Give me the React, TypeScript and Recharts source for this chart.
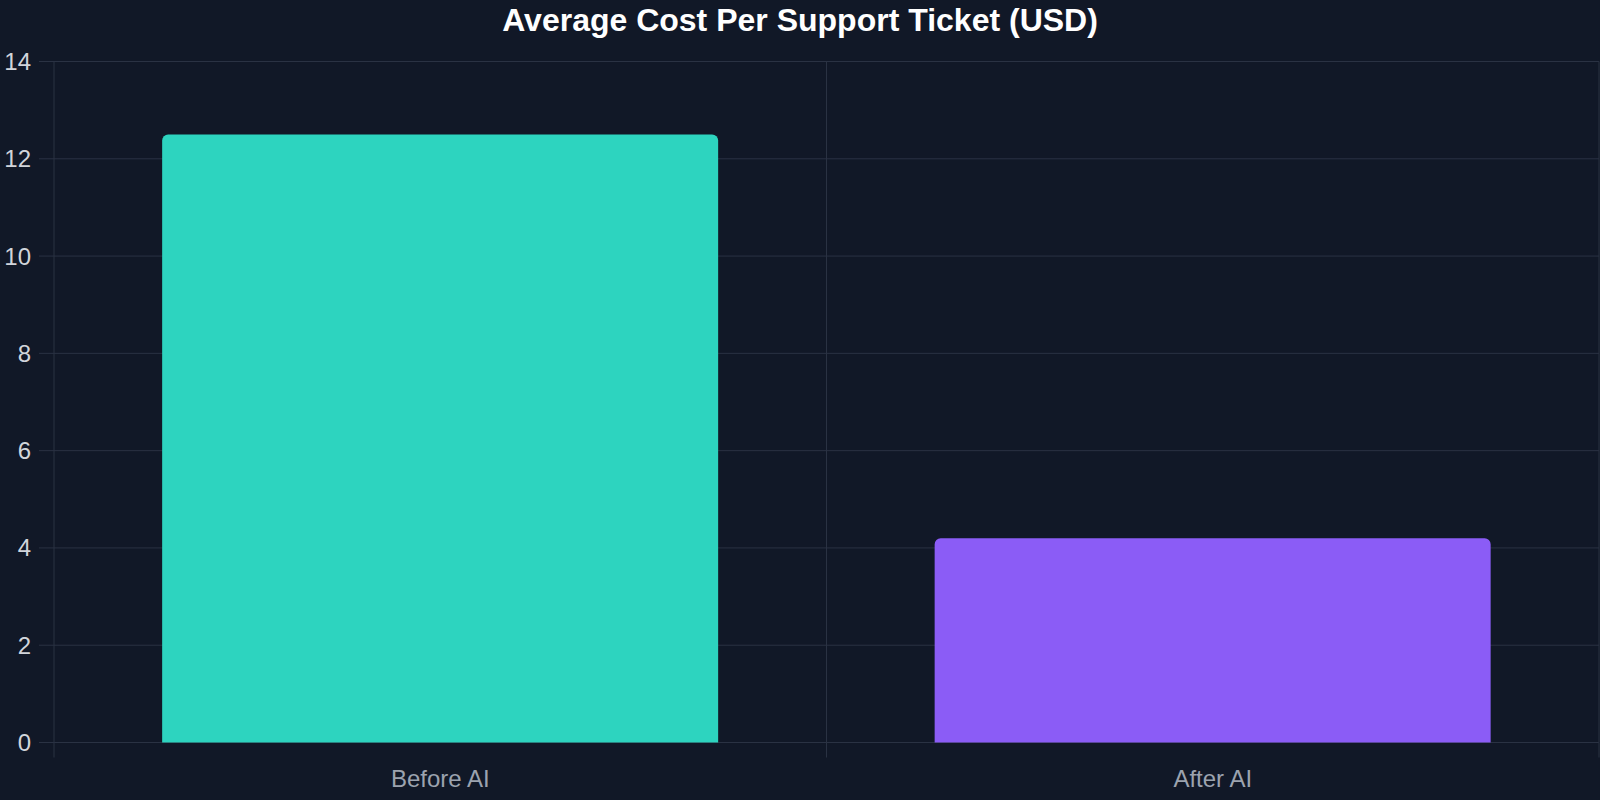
import { BarChart, Bar, XAxis, YAxis, CartesianGrid, Cell } from "recharts";

// data
const categories = ["Before AI", "After AI"];
const costs = [12.5, 4.2];
const barColors = ["#2dd4bf", "#8b5cf6"];
const yTicks = [0, 2, 4, 6, 8, 10, 12, 14];

const chartData = categories.map((name, i) => ({ name, cost: costs[i] }));

const GRID = "#2a3243";
const X_TICK_LEN = 15;
const X_TICK_GAP = 12;

// category label + tick marks on the band boundaries (chart.js style)
function BandTick(props: any) {
  const { x, y, payload, index, width, visibleTicksCount } = props;
  const count = visibleTicksCount || categories.length;
  const band = width / count;
  const top = y - X_TICK_LEN - X_TICK_GAP;
  const left = x - band / 2;
  const right = x + band / 2;
  return (
    <g>
      <line x1={left} x2={left} y1={top} y2={top + X_TICK_LEN} stroke={GRID} />
      {index === count - 1 && (
        <line x1={right} x2={right} y1={top} y2={top + X_TICK_LEN} stroke={GRID} />
      )}
      <text x={x} y={y} dy="0.71em" textAnchor="middle" fill="#9ca3af" fontSize={24}>
        {payload.value}
      </text>
    </g>
  );
}

export default function App() {
  return (
    <div
      style={{
        position: "relative",
        width: 1600,
        height: 800,
        background: "#111827",
        fontFamily: '"Liberation Sans", Arial, sans-serif',
      }}
    >
      <style>{"body{margin:0}"}</style>
      <div
        style={{
          position: "absolute",
          top: 2,
          left: 0,
          width: 1600,
          textAlign: "center",
          color: "#ffffff",
          fontSize: 32,
          fontWeight: 700,
          lineHeight: "normal",
        }}
      >
        Average Cost Per Support Ticket (USD)
      </div>
      <BarChart
        width={1600}
        height={800}
        data={chartData}
        margin={{ top: 61.5, right: 1, bottom: 0, left: 0 }}
        barCategoryGap="14%"
      >
        <XAxis
          dataKey="name"
          tickLine={false}
          axisLine={false}
          tickSize={X_TICK_LEN}
          tickMargin={X_TICK_GAP}
          height={57.5}
          interval={0}
          tick={<BandTick />}
        />
        <YAxis
          domain={[0, 14]}
          ticks={yTicks}
          width={54}
          tickSize={15}
          tickMargin={8}
          tickLine={{ stroke: GRID }}
          axisLine={false}
          tick={{ fill: "#d1d5db", fontSize: 24 }}
        />
        <CartesianGrid
          stroke={GRID}
          verticalCoordinatesGenerator={({ offset }: any) => [
            offset.left,
            offset.left + offset.width / 2,
            offset.left + offset.width,
          ]}
        />
        <Bar dataKey="cost" radius={[6, 6, 0, 0]} isAnimationActive={false}>
          {chartData.map((d, i) => (
            <Cell key={d.name} fill={barColors[i]} />
          ))}
        </Bar>
      </BarChart>
    </div>
  );
}
